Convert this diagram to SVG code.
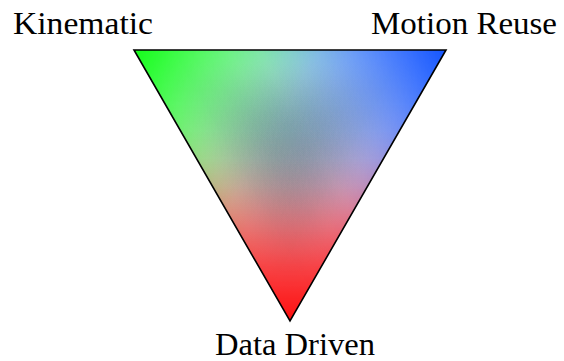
<svg xmlns="http://www.w3.org/2000/svg" width="564" height="361" viewBox="0 0 564 361">
  <style>
    .lbl { font-family: "Liberation Serif", "Times New Roman", serif; font-size: 32px; fill: #000; }
    .scr { mix-blend-mode: screen; }
    .edge { fill: none; stroke: #000; stroke-width: 1.6; stroke-linejoin: miter; }
  </style>
  <defs>
    <linearGradient id="gr" gradientUnits="userSpaceOnUse" x1="290" y1="321" x2="290" y2="50">
      <stop offset="0" stop-color="#ff0000"/>
      <stop offset="1" stop-color="#000000"/>
    </linearGradient>
    <linearGradient id="gg" gradientUnits="userSpaceOnUse" x1="134" y1="50" x2="368.35" y2="184.9">
      <stop offset="0" stop-color="#00ff00"/>
      <stop offset="1" stop-color="#000000"/>
    </linearGradient>
    <linearGradient id="gb" gradientUnits="userSpaceOnUse" x1="446" y1="50" x2="211.65" y2="184.9">
      <stop offset="0" stop-color="#0000ff"/>
      <stop offset="1" stop-color="#000000"/>
    </linearGradient>
    <filter id="mix" filterUnits="userSpaceOnUse" x="120" y="40" width="340" height="295" color-interpolation-filters="sRGB">
      <feComponentTransfer in="SourceGraphic" result="u">
        <feFuncR type="table" tableValues="0 0.003 0.015 0.055 0.14 0.28 0.45 0.62 0.77 0.89 1"/>
        <feFuncG type="table" tableValues="0 0.002 0.01 0.04 0.11 0.24 0.39 0.55 0.71 0.86 1"/>
        <feFuncB type="table" tableValues="0 0.002 0.01 0.04 0.11 0.24 0.39 0.55 0.71 0.86 1"/>
      </feComponentTransfer>
      <feColorMatrix in="u" type="matrix" result="base" values="0.106 -0.816 -0.816 0 0.894  -0.890 0.051 -0.616 0 0.949  -0.941 -0.902 0 0 1  0 0 0 1 0"/>
      <feColorMatrix in="SourceGraphic" type="matrix" result="rot1" values="0 1 0 0 0  0 0 1 0 0  1 0 0 0 0  0 0 0 1 0"/>
      <feColorMatrix in="SourceGraphic" type="matrix" result="rot2" values="0 0 1 0 0  1 0 0 0 0  0 1 0 0 0  0 0 0 1 0"/>
      <feComposite in="SourceGraphic" in2="rot1" operator="arithmetic" k1="3" k2="0" k3="0" k4="0" result="p1"/>
      <feComposite in="p1" in2="rot2" operator="arithmetic" k1="9" k2="0" k3="0" k4="0" result="p"/>
      <feComponentTransfer in="p" result="dark">
        <feFuncR type="gamma" amplitude="-0.37" exponent="2" offset="1"/>
        <feFuncG type="gamma" amplitude="-0.27" exponent="2" offset="1"/>
        <feFuncB type="gamma" amplitude="-0.25" exponent="2" offset="1"/>
        <feFuncA type="linear" slope="0" intercept="1"/>
      </feComponentTransfer>
      <feComposite in="base" in2="dark" operator="arithmetic" k1="1" k2="0" k3="0" k4="0"/>
    </filter>
  </defs>

  <g id="triangle">
    <g filter="url(#mix)" style="isolation:isolate">
      <polygon points="134,50 446,50 290,321" fill="url(#gr)"/>
      <polygon class="scr" points="134,50 446,50 290,321" fill="url(#gg)"/>
      <polygon class="scr" points="134,50 446,50 290,321" fill="url(#gb)"/>
    </g>
    <polygon class="edge" points="134,50 446,50 290,321"/>
  </g>

  <g id="kinematic">
    <text class="lbl" x="13" y="34" textLength="140" lengthAdjust="spacingAndGlyphs">Kinematic</text>
  </g>
  <g id="motion-reuse">
    <text class="lbl" x="371" y="34" textLength="186" lengthAdjust="spacingAndGlyphs">Motion Reuse</text>
  </g>
  <g id="data-driven">
    <text class="lbl" x="215" y="355" textLength="160" lengthAdjust="spacingAndGlyphs">Data Driven</text>
  </g>
  <g id="connectors"/>
</svg>
